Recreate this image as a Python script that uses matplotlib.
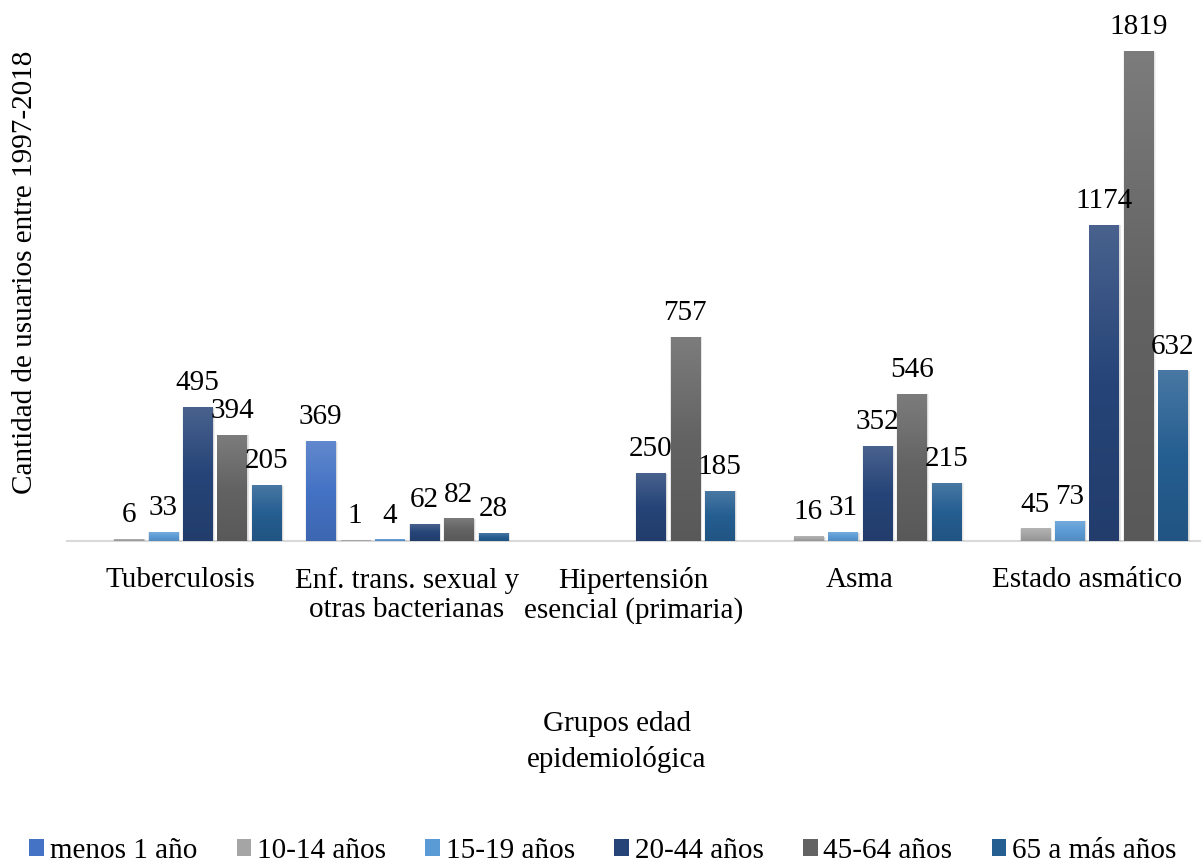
import numpy as np
import matplotlib
matplotlib.use("Agg")
import matplotlib.pyplot as plt
from matplotlib.colors import LinearSegmentedColormap, to_rgb
from matplotlib.patches import Patch, Rectangle

plt.rcParams["font.family"] = ["Liberation Serif", "DejaVu Serif"]
plt.rcParams["font.size"] = 21

categories = ["Tuberculosis", "Enf. trans. sexual y\notras bacterianas",
              "Hipertensión\nesencial (primaria)", "Asma", "Estado asmático"]
series_names = ["menos 1 año", "10-14 años", "15-19 años", "20-44 años",
                "45-64 años", "65 a más años"]
nan = np.nan
menos_1 = [nan, 369, nan, nan, nan]
a10_14 = [6, 1, nan, 16, 45]
a15_19 = [33, 4, nan, 31, 73]
a20_44 = [495, 62, 250, 352, 1174]
a45_64 = [394, 82, 757, 546, 1819]
a65_mas = [205, 28, 185, 215, 632]
all_series = [menos_1, a10_14, a15_19, a20_44, a45_64, a65_mas]
colors = ["#4472C4", "#A5A5A5", "#5B9BD5", "#264478", "#636363", "#255E91"]

W, H = 1204, 863
fig = plt.figure(figsize=(W / 100, H / 100), dpi=100)
ax_l, ax_r, ax_t, ax_b = 67, 1200, 3, 541
ax = fig.add_axes([ax_l / W, 1 - ax_b / H, (ax_r - ax_l) / W, (ax_b - ax_t) / H])
xlim = (-0.5, len(categories) - 0.5)
ylim = (0, 2000)
px_x = (xlim[1] - xlim[0]) / (ax_r - ax_l)
px_y = (ylim[1] - ylim[0]) / (ax_b - ax_t)

pitch = 0.152
width = 0.128
x = np.arange(len(categories))
grad = np.linspace(0, 1, 200).reshape(-1, 1)


def make_cmap(c):
    base = np.array(to_rgb(c))
    dark = base * 0.9
    light = base + (1 - base) * 0.16
    return LinearSegmentedColormap.from_list("g", [(0, dark), (0.5, base), (1, light)])


for i, (vals, col) in enumerate(zip(all_series, colors)):
    cmap = make_cmap(col)
    for j, v in enumerate(vals):
        if np.isnan(v):
            continue
        xc = x[j] + (i - 2.5) * pitch
        x0, x1 = xc - width / 2, xc + width / 2
        # soft shadow
        for k in range(1, 4):
            ax.add_patch(Rectangle((x0 - k * px_x * 0.6 + px_x, -k * px_y * 0.6),
                                   width + 2 * k * px_x * 0.6,
                                   v + k * px_y * 0.6,
                                   facecolor="black", edgecolor="none",
                                   alpha=0.05, zorder=1))
        ax.imshow(grad, extent=[x0, x1, 0, v], origin="lower", aspect="auto",
                  cmap=cmap, zorder=2, interpolation="bilinear")
        ax.annotate(f"{int(v)}", (xc, v), xytext=(0, 12.5), textcoords="offset points",
                    ha="center", va="baseline", fontsize=21, zorder=3)

ax.set_xlim(*xlim)
ax.set_ylim(*ylim)
ax.set_xticks(x)
ax.set_xticklabels(categories, linespacing=1.15)
ax.tick_params(axis="x", length=0, pad=19)
ax.set_yticks([])
for s in ["top", "right", "left"]:
    ax.spines[s].set_visible(False)
ax.spines["bottom"].set_color("#d9d9d9")
ax.spines["bottom"].set_linewidth(1.5)
ax.spines["bottom"].set_zorder(0.5)

fig.text(25 / W, 1 - 272 / H, "Cantidad de usuarios entre 1997-2018",
         rotation=90, ha="center", va="center")
fig.text(617 / W, 1 - 742 / H, "Grupos edad\nepidemiológica",
         ha="center", va="center", linespacing=1.45)

handles = [Patch(facecolor=c, edgecolor="none") for c in colors]
fig.legend(handles, series_names, loc="center", bbox_to_anchor=(603 / W, 1 - 851 / H),
           ncol=6, frameon=False, handlelength=0.5, handleheight=0.5,
           handletextpad=0.2, columnspacing=1.35, borderaxespad=0, borderpad=0)

fig.savefig("out.png", dpi=100)
